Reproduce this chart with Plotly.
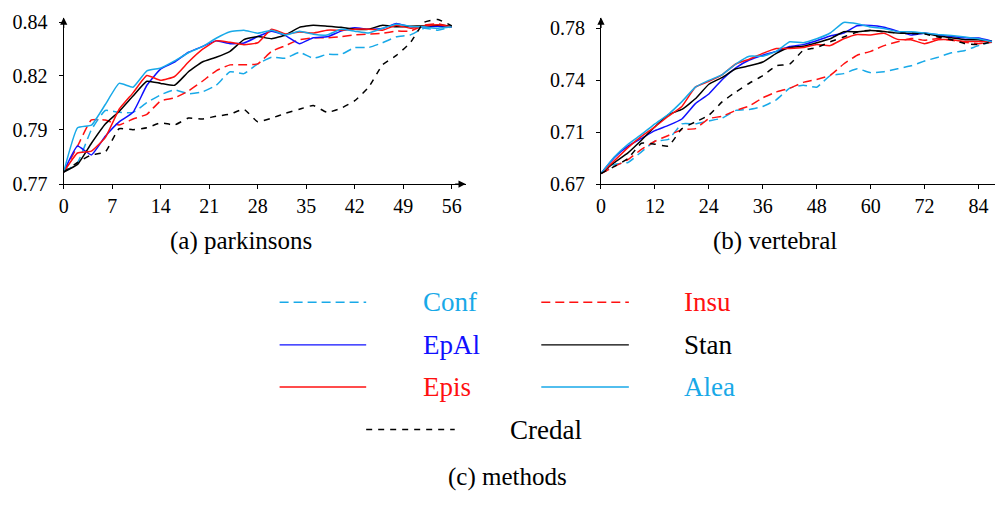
import plotly.graph_objects as go

# ---------------- data ----------------
methods = ["Conf", "Insu", "EpAl", "Stan", "Epis", "Alea", "Credal"]

x_park = list(range(0, 57, 2))
park_conf = [0.7769, 0.7809, 0.7947, 0.8028, 0.802, 0.802, 0.8061, 0.8094, 0.8115, 0.8098, 0.8106, 0.8134, 0.8191, 0.8183, 0.8224, 0.8252, 0.8248, 0.8273, 0.8248, 0.8264, 0.8264, 0.8293, 0.8293, 0.8313, 0.8338, 0.8346, 0.8374, 0.8366, 0.838]
park_insu = [0.7769, 0.7878, 0.7988, 0.7988, 0.7967, 0.7992, 0.8012, 0.8069, 0.8081, 0.811, 0.8151, 0.8195, 0.822, 0.822, 0.8224, 0.8277, 0.8301, 0.8326, 0.8334, 0.8334, 0.8339, 0.8346, 0.835, 0.8353, 0.8362, 0.8362, 0.8387, 0.8393, 0.838]
park_epal = [0.7769, 0.7878, 0.7841, 0.7919, 0.798, 0.802, 0.8134, 0.8203, 0.8232, 0.8273, 0.8297, 0.8321, 0.8309, 0.8312, 0.8339, 0.8362, 0.8343, 0.8309, 0.8334, 0.8338, 0.8362, 0.8376, 0.837, 0.8373, 0.8394, 0.838, 0.838, 0.8383, 0.838]
park_stan = [0.7769, 0.7801, 0.789, 0.7971, 0.8024, 0.8089, 0.8151, 0.8142, 0.8134, 0.8191, 0.8232, 0.8252, 0.8277, 0.8326, 0.8339, 0.833, 0.8346, 0.8378, 0.8387, 0.8383, 0.8378, 0.837, 0.837, 0.8387, 0.838, 0.8383, 0.8384, 0.8387, 0.8383]
park_epis = [0.7769, 0.7849, 0.7857, 0.7914, 0.8033, 0.8102, 0.8175, 0.8155, 0.8171, 0.8232, 0.8285, 0.8321, 0.8315, 0.8305, 0.8313, 0.837, 0.835, 0.8358, 0.8354, 0.8366, 0.8366, 0.837, 0.837, 0.8366, 0.8387, 0.8374, 0.8383, 0.8389, 0.838]
park_alea = [0.7769, 0.7955, 0.7966, 0.8053, 0.8142, 0.8126, 0.8195, 0.8207, 0.8237, 0.8271, 0.8297, 0.8332, 0.8359, 0.8366, 0.8353, 0.8366, 0.8346, 0.8362, 0.8349, 0.8346, 0.837, 0.8362, 0.8354, 0.8374, 0.8391, 0.8382, 0.838, 0.8374, 0.838]
park_credal = [0.7769, 0.7809, 0.7841, 0.7853, 0.7951, 0.7947, 0.7955, 0.7976, 0.7967, 0.7996, 0.7992, 0.8004, 0.8012, 0.8033, 0.798, 0.7996, 0.8016, 0.8033, 0.8049, 0.802, 0.8037, 0.8069, 0.8126, 0.822, 0.826, 0.8313, 0.8399, 0.8411, 0.8384]

x_vert = list(range(0, 88, 3))
vert_conf = [0.6775, 0.6839, 0.6853, 0.6928, 0.7003, 0.7016, 0.7126, 0.7126, 0.7146, 0.7167, 0.7221, 0.7228, 0.7249, 0.7296, 0.7378, 0.7399, 0.7385, 0.7467, 0.7481, 0.7515, 0.7488, 0.7495, 0.7515, 0.7536, 0.757, 0.7597, 0.7628, 0.7645, 0.7679, 0.7706]
vert_insu = [0.6775, 0.6825, 0.6873, 0.6945, 0.7003, 0.7044, 0.7085, 0.7092, 0.7163, 0.718, 0.7221, 0.7252, 0.731, 0.7351, 0.7378, 0.7419, 0.744, 0.7469, 0.7549, 0.7611, 0.7638, 0.7679, 0.7706, 0.773, 0.7717, 0.773, 0.7717, 0.7703, 0.7693, 0.7703]
vert_epal = [0.6775, 0.6889, 0.6969, 0.7023, 0.7078, 0.7115, 0.716, 0.7269, 0.7337, 0.744, 0.7522, 0.7577, 0.7611, 0.7638, 0.7672, 0.7686, 0.7713, 0.7747, 0.7768, 0.7819, 0.7822, 0.7809, 0.7781, 0.7754, 0.7766, 0.7754, 0.7744, 0.7734, 0.7732, 0.771]
vert_stan = [0.6775, 0.6853, 0.6921, 0.701, 0.7105, 0.7191, 0.7228, 0.7303, 0.7406, 0.7454, 0.7515, 0.7536, 0.7563, 0.7624, 0.7665, 0.7674, 0.7699, 0.7727, 0.7777, 0.7777, 0.7785, 0.7778, 0.7768, 0.7766, 0.7766, 0.7747, 0.7734, 0.772, 0.772, 0.7708]
vert_epis = [0.6775, 0.6866, 0.6958, 0.7037, 0.7105, 0.718, 0.7249, 0.7385, 0.7426, 0.7474, 0.7549, 0.7583, 0.7624, 0.7658, 0.7658, 0.7665, 0.7686, 0.7679, 0.7727, 0.7758, 0.7754, 0.7766, 0.7723, 0.772, 0.7693, 0.772, 0.772, 0.7708, 0.7708, 0.7706]
vert_alea = [0.6775, 0.6894, 0.6982, 0.7051, 0.7126, 0.7194, 0.7283, 0.7385, 0.7433, 0.7474, 0.7549, 0.7604, 0.7604, 0.7638, 0.7706, 0.7699, 0.7727, 0.7768, 0.7843, 0.7833, 0.7811, 0.78, 0.7777, 0.7777, 0.7768, 0.7758, 0.7751, 0.774, 0.7727, 0.7706]
vert_credal = [0.6775, 0.6825, 0.688, 0.6989, 0.6982, 0.6969, 0.7092, 0.7139, 0.7187, 0.7283, 0.7351, 0.7413, 0.7467, 0.7536, 0.7549, 0.7645, 0.7665, 0.7706, 0.774, 0.7775, 0.7788, 0.7775, 0.7768, 0.7764, 0.7761, 0.774, 0.772, 0.7693, 0.7686, 0.7706]

park_xticks = [0, 7, 14, 21, 28, 35, 42, 49, 56]
vert_xticks = [0, 12, 24, 36, 48, 60, 72, 84]
park_yticks = [0.7718, 0.7946, 0.8175, 0.8400]
park_ylabels = ["0.77", "0.79", "0.82", "0.84"]
vert_yticks = [0.6700, 0.7066, 0.7433, 0.7800]
vert_ylabels = ["0.67", "0.71", "0.74", "0.78"]

captions = ["(a) parkinsons", "(b) vertebral", "(c) methods"]

# ---------------- styles ----------------
CYAN = "#18A9E8"
BLUE = "#1010FF"
RED = "#FF1010"
BLACK = "#000000"
color = {"Conf": CYAN, "Insu": RED, "EpAl": BLUE, "Stan": BLACK,
         "Epis": RED, "Alea": CYAN, "Credal": BLACK}
dash = {"Conf": "9px,5px", "Insu": "9px,5px", "EpAl": "solid", "Stan": "solid",
        "Epis": "solid", "Alea": "solid", "Credal": "6px,6px"}

park = dict(zip(methods, [park_conf, park_insu, park_epal, park_stan, park_epis, park_alea, park_credal]))
vert = dict(zip(methods, [vert_conf, vert_insu, vert_epal, vert_stan, vert_epis, vert_alea, vert_credal]))

FONT = "Liberation Serif"
W, H = 995, 505

fig = go.Figure()
for m in methods:
    fig.add_trace(go.Scatter(x=x_park, y=park[m], mode="lines", name=m,
                             line=dict(color=color[m], width=1.5, dash=dash[m], shape="spline", smoothing=0.4),
                             xaxis="x", yaxis="y", showlegend=False))
for m in methods:
    fig.add_trace(go.Scatter(x=x_vert, y=vert[m], mode="lines", name=m,
                             line=dict(color=color[m], width=1.5, dash=dash[m], shape="spline", smoothing=0.4),
                             xaxis="x2", yaxis="y2", showlegend=False))

ydom = [1 - 184.3 / H, 1 - 12 / H]
axis_common = dict(showgrid=False, zeroline=False, showline=True, linecolor="black", linewidth=1.2,
                   ticks="outside", ticklen=4, tickcolor="black", tickwidth=1,
                   tickfont=dict(family=FONT, size=20, color="black"))

fig.update_layout(
    width=W, height=H, margin=dict(l=0, r=0, t=0, b=0),
    paper_bgcolor="white", plot_bgcolor="white",
    font=dict(family=FONT),
    xaxis=dict(domain=[59 / W, 463 / W], range=[0, 58], tickvals=park_xticks, anchor="y", **axis_common),
    yaxis=dict(domain=ydom, range=[0.7718, 0.8419], tickvals=park_yticks, ticktext=park_ylabels,
               anchor="x", ticklabelstandoff=7, **axis_common),
    xaxis2=dict(domain=[599 / W, 1.0], range=[0, 87.67], tickvals=vert_xticks, anchor="y2", **axis_common),
    yaxis2=dict(domain=ydom, range=[0.67, 0.7877], tickvals=vert_yticks, ticktext=vert_ylabels,
                anchor="x2", ticklabelstandoff=7, **axis_common),
    showlegend=False,
)

ann = []
# axis arrowheads
ann.append(dict(x=0, y=0.8419, xref="x", yref="y", ax=0, ay=12, showarrow=True, arrowhead=2,
                arrowsize=1.2, arrowwidth=1.2, arrowcolor="black", text=""))
ann.append(dict(x=58, y=0.7718, xref="x", yref="y", ax=-12, ay=0, showarrow=True, arrowhead=2,
                arrowsize=1.2, arrowwidth=1.2, arrowcolor="black", text=""))
ann.append(dict(x=0, y=0.7877, xref="x2", yref="y2", ax=0, ay=12, showarrow=True, arrowhead=2,
                arrowsize=1.2, arrowwidth=1.2, arrowcolor="black", text=""))

# captions
for txt, cx, cy in zip(captions, [237, 774, 505], [243, 243, 487]):
    ann.append(dict(x=cx / W, y=1 - cy / H, xref="paper", yref="paper", text=txt, showarrow=False,
                    xanchor="center", yanchor="middle", font=dict(family=FONT, size=25, color="black")))

# legend (methods panel)
legend_pos = {
    "Conf": (276, 363, 418, 306.5), "Insu": (539, 627, 680, 306.5),
    "EpAl": (276, 363, 418, 350.7), "Stan": (539, 627, 680, 350.7),
    "Epis": (276, 363, 418, 394.3), "Alea": (539, 627, 680, 394.3),
    "Credal": (363, 452, 506, 438.3),
}
shapes = []
for m in methods:
    x0, x1, tx, py = legend_pos[m]
    shapes.append(dict(type="line", xref="paper", yref="paper", x0=x0 / W, x1=x1 / W,
                       y0=1 - py / H, y1=1 - py / H,
                       line=dict(color=color[m], width=1.4, dash=dash[m])))
    ann.append(dict(x=tx / W, y=1 - py / H, xref="paper", yref="paper", text=m, showarrow=False,
                    xanchor="left", yanchor="middle", font=dict(family=FONT, size=27, color=color[m])))

fig.update_layout(annotations=ann, shapes=shapes)
fig.write_html("out.html")
